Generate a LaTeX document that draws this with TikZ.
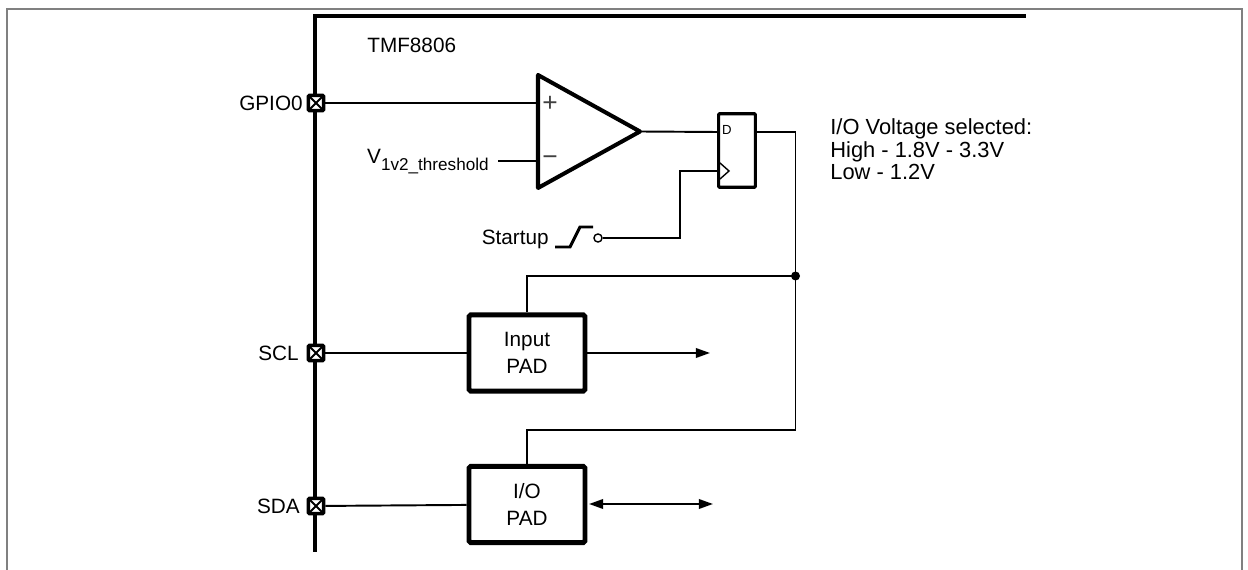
\documentclass[tikz,border=0pt]{standalone}
\usepackage{fontspec}
\setmainfont{Liberation Sans}
\usetikzlibrary{arrows.meta}
\tikzset{
	wire/.style={line width=1.1pt},
	bus/.style={line width=2.3pt},
	padpin/.style={draw, fill=white, line width=2pt, rounded corners=0.6pt, minimum size=8.6pt, inner sep=0pt,
		path picture={\draw[line width=1.1pt] (path picture bounding box.north west) -- (path picture bounding box.south east)
			(path picture bounding box.north east) -- (path picture bounding box.south west);}},
	padbox/.style={draw, line width=2.8pt, rounded corners=1pt, minimum width=66pt, minimum height=43.4pt, align=center, inner sep=0pt},
	pinlabel/.style={anchor=east, font=\fontsize{11.8}{14}\selectfont, inner sep=0pt},
	tip/.style={-{Triangle[length=8pt,width=5.4pt]}}
}
\begin{document}
\begin{tikzpicture}[x=0.02cm, y=-0.02cm, every node/.style={font=\fontsize{11.8}{13}\selectfont}]
	\useasboundingbox (0,0) rectangle (1248,570);
	\draw[line width=1.15pt, gray] (7,570) -- (7,9) -- (1242,9) -- (1242,570);
	% chip outline
	\draw[bus] (315,552) -- (315,16) -- (1026,16);
	\node[anchor=west, inner sep=0pt] (chip) at (367,45) {TMF8806};

	\node[padpin] (gpio) at (316,103) {};
	\node[padpin] (scl) at (316,353) {};
	\node[padpin] (sda) at (316,506) {};
	\node[pinlabel] (gpiolabel) at (303,103) {GPIO0};
	\node[pinlabel] (scllabel) at (299,353) {SCL};
	\node[pinlabel] (sdalabel) at (300,506) {SDA};

	% comparator
	\draw[line width=2.3pt, line join=round] (538,75) -- (640,131.5) -- (538,188) -- cycle;
	\coordinate (cmpplus) at (538,103);
	\coordinate (cmpminus) at (538,161);
	\coordinate (cmpout) at (640,131.5);
	\node[inner sep=0pt, font=\fontsize{15}{15}\selectfont, text=black!75] (plus) at (550,104) {+};
	\node[inner sep=0pt, font=\fontsize{15}{15}\selectfont, text=black!75] (minus) at (550,161) {−};
	\node[anchor=base east, inner sep=0pt] (thresh) at (489,164) {V\raisebox{-3.5pt}{\fontsize{9.75}{10}\selectfont 1v2\_threshold}};
	\coordinate (threshend) at (498,161);

	% flip flop
	\node[draw, line width=1.8pt, rounded corners=0.6pt, minimum width=20.9pt, minimum height=41.9pt, inner sep=0pt] (ff) at (737,150.5) {};
	\node[inner sep=0pt, font=\fontsize{7.5}{8}\selectfont] (ffd) at (727,130) {D};
	\draw[line width=0.8pt] (720,163) -- (729,171) -- (720,179);
	\coordinate (ffd in) at (717,132);
	\coordinate (ffq) at (757,132);
	\coordinate (ffclk) at (718,171);

	\draw[wire] (gpio) -- (cmpplus);
	\draw[wire] (threshend) -- (cmpminus);
	\draw[wire] (cmpout) -- (ffd in);

	% startup
	\node[anchor=base west, inner sep=0pt] (startup) at (481.5,245) {Startup};
	\draw[line width=1.7pt] (555,247) -- (570,247) -- (580,227) -- (593,227);
	\node[draw, circle, line width=0.8pt, minimum size=4.6pt, inner sep=0pt] (startpin) at (598,238) {};
	\draw[wire] (startpin) -| (680,171) -- (ffclk);

	% pads
	\node[padbox] (input) at (527,353) {Input\\[2.3pt]PAD};
	\node[padbox] (io) at (527,504.5) {I/O\\[2.3pt]PAD};
	\draw[wire] (scl) -- (input);
	\draw[wire] (sda) -- (io);
	\coordinate (inputout) at (710,353);
	\draw[wire, tip] (input) -- (inputout);
	\coordinate (ioout) at (713,504);
	\coordinate (ioin) at (589,504);
	\draw[wire, {Triangle[length=8pt,width=5.4pt]}-{Triangle[length=8pt,width=5.4pt]}] (ioin) -- (ioout);

	% feedback
	\coordinate (dot) at (795.5,276);
	\draw[wire] (ffq) -| (dot) |- (527,430) -- (io.north);
	\draw[wire] (dot) -| (input.north);
	\fill (dot) circle (4.5);

	\node[anchor=north west, align=left, inner sep=0pt, font=\fontsize{12.45}{12.7}\selectfont] (voltage) at (830,118.5) {I/O Voltage selected:\\High - 1.8V - 3.3V\\Low - 1.2V};
\end{tikzpicture}
\end{document}
